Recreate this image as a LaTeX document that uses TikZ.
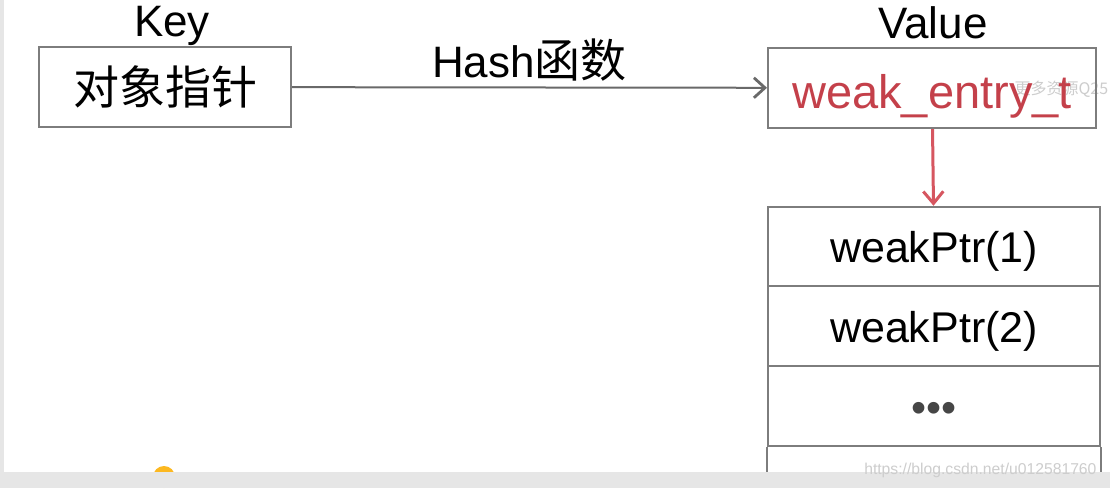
\documentclass[tikz,border=0pt]{standalone}
\usepackage{fontspec}
\setmainfont{Liberation Sans}
\newfontfamily\cjk{Noto Sans CJK SC}
\usetikzlibrary{arrows.meta}
\definecolor{boxgray}{RGB}{125,125,125}
\definecolor{arrowgray}{RGB}{105,105,105}
\definecolor{entryred}{RGB}{196,64,74}
\definecolor{arrowred}{RGB}{214,86,96}
\definecolor{bandgray}{RGB}{230,230,230}
\definecolor{markgray}{RGB}{205,205,205}
\definecolor{dotgray}{RGB}{70,70,70}
\definecolor{playorange}{RGB}{252,184,32}
\tikzset{
  cellbox/.style={draw=boxgray, line width=2pt, inner sep=0pt},
  bigtext/.style={font=\fontsize{44}{50}\selectfont},
  rowtext/.style={font=\fontsize{43}{50}\selectfont, text height=40pt,
    text depth=8pt},
  hashline/.style={draw=arrowgray, line width=2pt,
    -{Straight Barb[length=11pt, width=20pt, line width=2.8pt]}},
  entryline/.style={draw=arrowred, line width=3pt,
    -{Straight Barb[length=12pt, width=20pt, line width=3pt]}},
}
\begin{document}
\begin{tikzpicture}[x=1pt, y=-1pt]
        \useasboundingbox (0,0) rectangle (1110,488);
        \fill[white] (0,0) rectangle (1110,488);
        % watermark behind the entry text
        \begin{scope}
          \clip (0,0) rectangle (1110,488);
          \node[anchor=west, text=markgray, font=\cjk\fontsize{16}{20}\selectfont]
            (mark1) at (1011,89) {更多资源Q25};
        \end{scope}
        % Key side
        \node[bigtext] (keylbl) at (172,26) {Key};
        \node[cellbox, minimum width=252pt, minimum height=80pt,
          font=\cjk\fontsize{46}{52}\selectfont] (key) at (165,87)
          {\raisebox{-4pt}{对象指针}};
        % Value side
        \node[bigtext] (valuelbl) at (933,23) {Value};
        \node[cellbox, minimum width=328pt, minimum height=80pt,
          font=\fontsize{47}{52}\selectfont, text=entryred, text height=44pt,
          text depth=4pt] (value) at (932,88) {weak\_entry\_t};
        % weak pointer list
        \node[cellbox, rowtext, minimum width=332pt, minimum height=79.5pt]
          (row1) at (934,246.5) {weakPtr(1)};
        \node[cellbox, rowtext, minimum width=332pt, minimum height=80pt]
          (row2) at (934,326) {weakPtr(2)};
        \node[cellbox, rowtext, minimum width=332pt, minimum height=80pt,
          text=dotgray] (row3) at (934,406) {•••};
        \draw[boxgray, line width=2pt] (row3.south west) -- ++(0,26);
        \draw[boxgray, line width=2pt] (row3.south east) -- ++(0,26);
        % Draw arrows
        \draw[hashline] (key) -- (value) node[midway, above=5pt, inner sep=0pt]
          {\fontsize{44}{50}\selectfont Hash{\cjk\fontsize{46}{52}\selectfont 函数}};
        \draw[entryline] (value) -- (row1);
        % player overlay
        \fill[playorange] (164,477) circle (11);
        \fill[bandgray] (0,472) rectangle (1110,488);
        \fill[bandgray] (0,0) rectangle (4,472);
        \node[anchor=east, text=markgray, font=\fontsize{15.7}{18}\selectfont]
          (mark2) at (1100,470) {https://blog.csdn.net/u012581760};
\end{tikzpicture}
\end{document}
